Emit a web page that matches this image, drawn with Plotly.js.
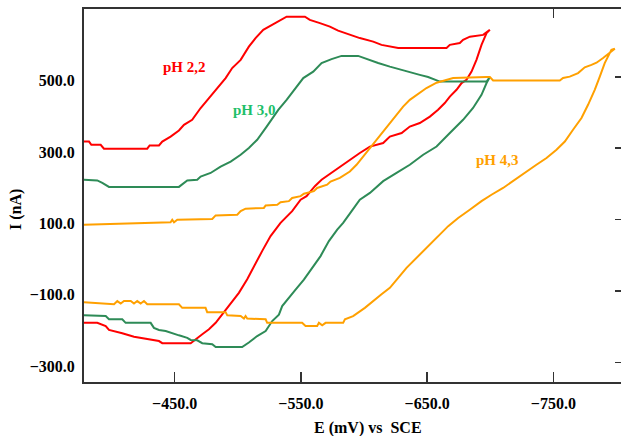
<!DOCTYPE html>
<html>
<head>
<meta charset="utf-8">
<script src="https://cdn.plot.ly/plotly-3.0.1.min.js"></script>
<style>html,body{margin:0;padding:0;background:#fff;}#chart{width:621px;height:436px;}</style>
</head>
<body>
<div id="chart"></div>
<script>
// pH 2,2 (red) cyclic voltammogram, E in mV vs SCE, I in nA
const ph22_E = [-378.2,-382.2,-384.0,-391.4,-394.0,-428.3,-430.2,-437.6,-440.2,-446.8,-453.4,-457.4,-463.9,-470.6,-477.2,-483.7,-490.4,-495.6,-502.3,-508.8,-514.1,-520.2,-526.8,-533.4,-538.7,-553.2,-557.1,-565.1,-573.0,-579.5,-588.8,-596.7,-607.3,-613.9,-627.1,-665.4,-668.0,-675.9,-678.5,-683.9,-694.4,-699.7,
  -697.1,-693.1,-689.1,-685.2,-681.2,-677.3,-673.3,-668.0,-664.0,-658.7,-652.2,-644.2,-636.3,-629.8,-620.5,-615.2,-604.7,-596.7,-588.8,-580.9,-575.6,-566.4,-561.1,-554.5,-549.8,-543.1,-533.9,-526.0,-519.3,-512.8,-507.5,-500.9,-494.4,-487.7,-482.5,-477.2,-471.9,-466.6,-462.7,-440.2,-437.6,-417.8,-408.5,-398.0,-395.4,-388.7,-378.2];
const ph22_I = [329,329,320,320,309,309,318,318,329,343,360,376,390,423,451,479,507,535,558,595,619,642,656,670,679,679,670,661,651,640,628,619,609,600,591,591,600,605,614,623,628,642,
  633,600,558,525,502,493,474,455,437,418,399,381,371,353,343,325,315,297,278,259,245,222,204,176,166,134,101,64,22,-20,-57,-95,-123,-155,-179,-197,-211,-225,-236,-236,-230,-218,-208,-199,-188,-179,-179];

// pH 3,0 (green)
const ph30_E = [-378.2,-388.7,-392.7,-398.0,-453.4,-460.0,-467.9,-470.6,-478.5,-486.4,-494.4,-502.3,-508.8,-515.4,-522.9,-532.1,-538.7,-542.7,-551.9,-559.8,-566.4,-574.3,-582.2,-595.4,-603.3,-611.2,-620.5,-633.7,-644.2,-650.8,-660.1,-697.1,-699.7,
  -697.1,-693.1,-686.4,-678.5,-668.0,-657.5,-646.9,-636.3,-625.8,-615.2,-604.7,-596.7,-590.2,-583.5,-578.8,-572.2,-565.6,-559.0,-552.4,-545.8,-539.2,-535.2,-532.6,-527.3,-522.1,-515.4,-508.8,-503.5,-482.5,-479.8,-471.9,-467.9,-462.7,-460.0,-453.4,-448.1,-442.9,-437.6,-433.6,-431.0,-411.2,-408.5,-398.0,-395.4,-378.2];
const ph30_I = [222,220,213,202,202,220,222,231,241,259,273,292,311,334,371,418,446,465,507,525,549,560,569,569,558,549,539,525,516,510,497,497,510,
  493,460,423,390,353,315,292,264,241,218,185,166,134,101,82,50,8,-25,-58,-86,-114,-132,-156,-174,-202,-216,-234,-247,-247,-239,-236,-228,-227,-221,-214,-208,-202,-199,-193,-179,-179,-169,-169,-160,-158];

// pH 4,3 (orange)
const ph43_E = [-378.2,-446.8,-448.1,-449.5,-452.1,-479.8,-482.5,-499.6,-502.3,-506.2,-520.7,-522.1,-531.3,-533.9,-540.5,-543.1,-549.8,-552.4,-560.3,-562.9,-570.8,-573.5,-580.9,-588.8,-594.1,-599.3,-604.7,-610.0,-615.2,-620.5,-625.8,-631.0,-636.3,-641.6,-649.5,-657.5,-662.7,-670.6,-697.1,-699.7,-702.3,-755.1,-757.7,-763.0,-769.6,-774.9,-780.2,-784.2,-789.4,-794.7,-798.7,
  -796.0,-790.7,-786.8,-782.8,-777.5,-772.3,-765.6,-759.1,-752.5,-744.6,-736.6,-728.7,-719.5,-710.2,-701.0,-693.1,-683.8,-674.6,-666.7,-660.1,-653.5,-646.9,-640.3,-633.7,-627.1,-620.5,-613.9,-607.3,-600.7,-591.4,-584.9,-583.5,-569.6,-566.9,-564.3,-562.9,-553.7,-551.0,-523.3,-522.1,-507.5,-506.2,-504.9,-502.3,-491.7,-490.4,-475.8,-474.5,-456.0,-453.4,-428.3,-425.7,-423.1,-420.4,-417.8,-415.2,-409.9,-407.3,-404.6,-402.0,-378.2];
const ph43_I = [96,103,110,103,110,112,122,124,134,141,143,150,152,159,162,171,176,183,190,199,208,217,227,245,264,287,311,334,357,381,404,427,446,460,479,494,500,507,510,510,500,500,507,511,521,537,544,550,563,577,589,
  586,549,511,474,432,395,362,329,306,283,264,245,222,199,180,162,138,115,92,68,45,22,-1,-25,-53,-81,-99,-118,-137,-160,-169,-179,-179,-186,-179,-188,-188,-179,-179,-169,-167,-160,-167,-160,-158,-149,-149,-137,-137,-127,-127,-118,-125,-118,-125,-118,-118,-125,-118,-127,-121];

const xTicks = [-450, -550, -650, -750];
const yTicks = [-300, -100, 100, 300, 500];
const labels = [
  {text: 'pH 2,2', E: -458, I: 538, color: '#ff0000'},
  {text: 'pH 3,0', E: -513, I: 418, color: '#1fbf6a'},
  {text: 'pH 4,3', E: -706, I: 278, color: '#ffa000'}
];

const font = 'Liberation Serif, Times New Roman, serif';
const axisColor = '#333333';
const xRange = [-378.2, -803.6];
const yRange = [-344.8, 700.5];

const traces = [
  {x: ph22_E, y: ph22_I, mode: 'lines', line: {color: '#ff0000', width: 2}, hoverinfo: 'skip'},
  {x: ph30_E, y: ph30_I, mode: 'lines', line: {color: '#2e8b57', width: 2}, hoverinfo: 'skip'},
  {x: ph43_E, y: ph43_I, mode: 'lines', line: {color: '#ffa000', width: 2}, hoverinfo: 'skip'},
  {x: [], y: [], xaxis: 'x2', yaxis: 'y2', mode: 'lines', hoverinfo: 'skip'}
];

const annotations = labels.map(l => ({
  x: l.E, y: l.I, xref: 'x', yref: 'y', text: '<b>' + l.text + '</b>', showarrow: false,
  font: {family: font, size: 15, color: l.color}, xanchor: 'center', yanchor: 'middle'
}));
annotations.push({
  xref: 'paper', yref: 'paper', x: 0.528, y: -0.124, text: '<b>E (mV) vs\u00a0\u00a0SCE</b>',
  showarrow: false, xanchor: 'center', yanchor: 'middle', font: {family: font, size: 16, color: '#000'}
});
annotations.push({
  xref: 'paper', yref: 'paper', x: -0.1266, y: 0.461, text: '<b>I (nA)</b>', textangle: -90,
  showarrow: false, xanchor: 'center', yanchor: 'middle', font: {family: font, size: 16, color: '#000'}
});

const layout = {
  width: 621, height: 436,
  margin: {l: 84, r: 0, t: 9, b: 54, pad: 0},
  paper_bgcolor: '#ffffff', plot_bgcolor: '#ffffff',
  showlegend: false,
  hovermode: false,
  font: {family: font, color: '#000'},
  xaxis: {
    range: xRange, tickvals: xTicks, tickformat: '.1f',
    ticks: 'inside', ticklen: 10, tickwidth: 1.5, tickcolor: axisColor,
    showline: true, linecolor: axisColor, linewidth: 2, mirror: true,
    showgrid: false, zeroline: false,
    tickfont: {family: font, size: 16, color: '#000', weight: 'bold'},
    ticklabelstandoff: 6
  },
  yaxis: {
    range: yRange, tickvals: yTicks, tickformat: '.1f',
    ticks: '', showline: true, linecolor: axisColor, linewidth: 2,
    showgrid: false, zeroline: false,
    tickfont: {family: font, size: 16, color: '#000', weight: 'bold'},
    ticklabelstandoff: 4
  },
  xaxis2: {
    overlaying: 'x', side: 'top', range: xRange, tickvals: [-750],
    ticks: 'inside', ticklen: 9, tickwidth: 1.5, tickcolor: axisColor,
    showticklabels: false, showline: false, showgrid: false, zeroline: false
  },
  yaxis2: {
    overlaying: 'y', side: 'right', range: [-355, 690], tickvals: yTicks,
    ticks: 'inside', ticklen: 6, tickwidth: 1.5, tickcolor: axisColor,
    showticklabels: false, showline: false, showgrid: false, zeroline: false
  },
  annotations: annotations
};

Plotly.newPlot('chart', traces, layout, {displayModeBar: false, staticPlot: true});
</script>
</body>
</html>
